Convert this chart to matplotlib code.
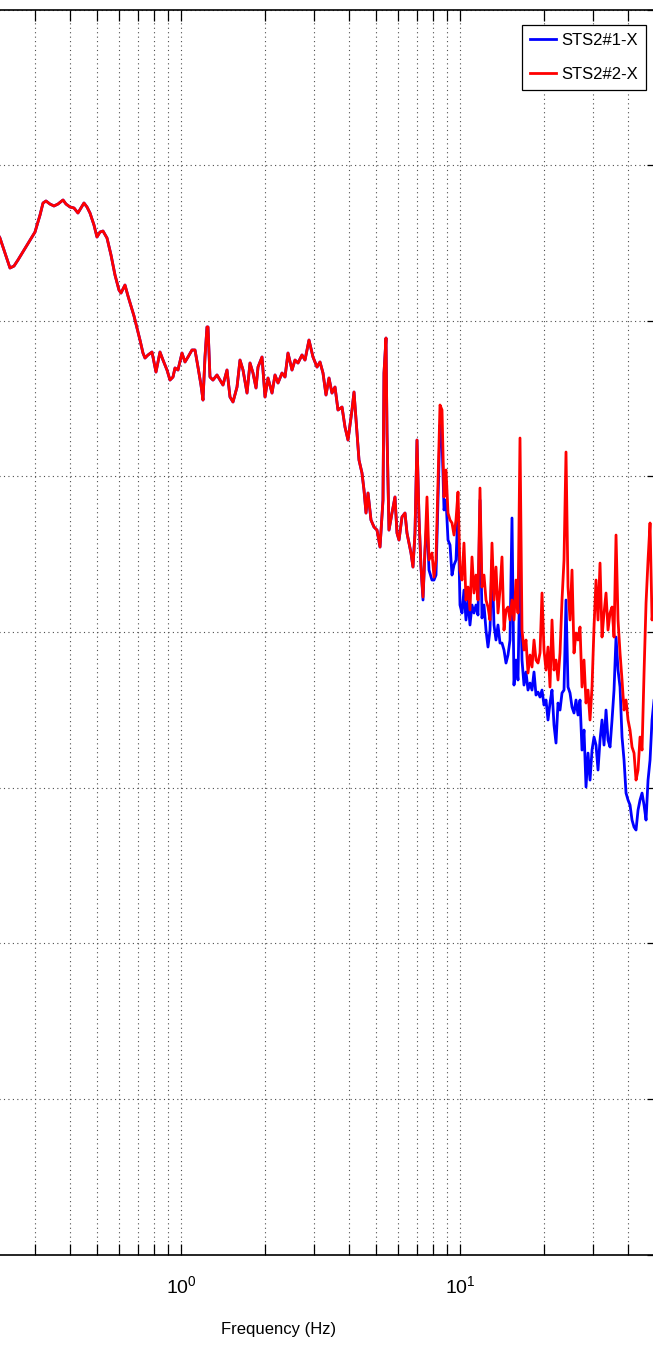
import math
import matplotlib
matplotlib.use("Agg")
import matplotlib.pyplot as plt
import matplotlib.font_manager as fm
from matplotlib.ticker import LogLocator, FixedLocator, NullFormatter, FuncFormatter

NARROW = "Liberation Sans Narrow" in {f.name for f in fm.fontManager.ttflist}
FONT = "Liberation Sans Narrow" if NARROW else "Liberation Sans"
SZ = 1.2 if NARROW else 1.0
plt.rcParams["font.family"] = [FONT, "DejaVu Sans"]

# ---------------- data ----------------
# frequency bins shared by both sensors below ~7 Hz (curves coincide there)
low_freq = [0.2100, 0.2245, 0.2320, 0.2398, 0.2438, 0.2520, 0.2604, 0.2737, 0.2876, 0.2997,
            0.3124, 0.3202, 0.3282, 0.3391, 0.3505, 0.3623, 0.3777, 0.3871, 0.4001, 0.4135,
            0.4272, 0.4380, 0.4490, 0.4603, 0.4718, 0.4877, 0.4999, 0.5124, 0.5253, 0.5430,
            0.5612, 0.5800, 0.5994, 0.6094, 0.6298, 0.6457, 0.6619, 0.6785, 0.6955, 0.7129,
            0.7307, 0.7430, 0.7616, 0.7871, 0.8135, 0.8408, 0.8620, 0.8909, 0.9132, 0.9361,
            0.9517, 0.9755, 1.0083, 1.0335, 1.0595, 1.0950, 1.1225, 1.1505, 1.1794, 1.1991,
            1.2190, 1.2393, 1.2496, 1.2703, 1.3021, 1.3459, 1.3797, 1.4142, 1.4618, 1.4985,
            1.5360, 1.5877, 1.6275, 1.6684, 1.7244, 1.7675, 1.8119, 1.8573, 1.8884, 1.9516,
            2.0005, 2.0505, 2.1196, 2.1727, 2.2272, 2.3014, 2.3595, 2.4184, 2.4995, 2.5623,
            2.6267, 2.7147, 2.7826, 2.8761, 2.9726, 3.0725, 3.1494, 3.2285, 3.3092, 3.3921,
            3.4770, 3.5645, 3.6535, 3.7768, 3.8711, 3.9684, 4.1012, 4.1698, 4.2740, 4.3451,
            4.4537, 4.5283, 4.6040, 4.6811, 4.7978, 4.9185, 5.0415, 5.1684, 5.2966, 5.3408,
            5.4300, 5.4753, 5.5656, 5.7056, 5.8479, 5.9457, 6.0452, 6.1962, 6.3521, 6.4565,
            6.6741, 6.7842, 6.8978, 7.0132, 7.1285]
low_psd = [-67.50, -69.37, -70.91, -72.45, -73.22, -72.97, -72.19, -70.91, -69.62, -68.60,
           -66.41, -64.87, -64.61, -65.00, -65.25, -65.00, -64.48, -65.00, -65.38, -65.51,
           -66.15, -65.51, -64.87, -65.38, -66.15, -67.70, -69.24, -68.60, -68.47, -69.37,
           -71.55, -74.12, -76.05, -76.44, -75.41, -76.82, -78.11, -79.39, -80.93, -82.48,
           -84.15, -84.79, -84.40, -84.02, -86.59, -84.02, -85.05, -86.33, -87.62, -87.23,
           -86.07, -86.33, -84.15, -85.30, -84.66, -83.76, -83.76, -85.95, -88.26, -90.19,
           -84.66, -80.80, -80.80, -87.23, -87.62, -86.97, -87.62, -88.26, -86.33, -89.80,
           -90.44, -88.52, -85.05, -86.33, -89.29, -85.43, -86.72, -88.64, -85.95, -84.66,
           -89.80, -87.36, -89.29, -86.97, -88.00, -86.72, -87.23, -84.15, -86.33, -85.05,
           -85.43, -84.40, -85.05, -82.48, -84.66, -85.95, -85.30, -86.72, -89.54, -87.36,
           -89.29, -88.52, -91.47, -91.09, -93.66, -95.33, -91.47, -89.16, -94.43, -97.90,
           -99.57, -101.75, -104.71, -102.14, -105.61, -106.51, -106.90, -109.08, -103.04, -86.72,
           -82.22, -94.43, -106.90, -104.71, -102.65, -107.28, -108.18, -105.22, -104.71, -107.28,
           -109.85, -111.65, -107.28, -95.33, -105.22]

# 7 - 8.3 Hz
mid_freq = [7.2478, 7.3690, 7.4923, 7.6158, 7.7432, 7.9362, 8.0691, 8.2040]
sts1_mid = [-111.65, -115.89, -109.47, -105.61, -112.04, -113.32, -113.32, -112.68]
sts2_mid = [-111.65, -115.51, -109.47, -102.65, -110.75, -109.85, -112.94, -110.75]

# 8.5 - 50 Hz, where the two sensors separate
high_freq = [8.479, 8.621, 8.765, 8.911, 9.059, 9.210, 9.362, 9.518, 9.676, 9.837,
             10.000, 10.167, 10.335, 10.507, 10.682, 10.860, 11.041, 11.225, 11.412, 11.602,
             11.795, 11.991, 12.191, 12.394, 12.600, 12.810, 13.023, 13.240, 13.460, 13.684,
             13.912, 14.143, 14.379, 14.618, 14.861, 15.109, 15.360, 15.616, 15.876, 16.140,
             16.409, 16.682, 16.960, 17.242, 17.529, 17.821, 18.118, 18.420, 18.726, 19.038,
             19.355, 19.677, 20.005, 20.338, 20.676, 21.020, 21.370, 21.726, 22.088, 22.455,
             22.829, 23.209, 23.596, 23.988, 24.388, 24.794, 25.206, 25.626, 26.053, 26.486,
             26.927, 27.375, 27.831, 28.295, 28.766, 29.245, 29.732, 30.227, 30.730, 31.242,
             31.762, 32.291, 32.829, 33.375, 33.931, 34.496, 35.070, 35.654, 36.248, 36.851,
             37.465, 38.089, 38.723, 39.367, 40.023, 40.689, 41.367, 42.056, 42.756, 43.468,
             44.192, 44.928, 45.676, 46.436, 47.209, 47.995, 48.794, 49.606]
sts2_high = [-90.83, -91.47, -102.65, -99.18, -104.71, -105.61, -105.99, -107.54, -105.61, -102.01,
             -112.04, -113.32, -108.57, -115.89, -114.22, -117.18, -110.36, -114.99, -112.68, -115.89,
             -101.50, -114.22, -112.68, -115.89, -116.79, -118.46, -108.57, -115.89, -111.65, -117.56,
             -114.61, -110.36, -119.75, -117.18, -116.79, -118.46, -115.89, -118.46, -113.32, -117.56,
             -95.07, -119.75, -122.32, -121.03, -125.27, -122.96, -124.50, -121.03, -123.60, -123.99,
             -122.70, -114.99, -122.32, -124.89, -121.93, -127.07, -118.46, -124.89, -123.60, -126.17,
             -122.70, -115.89, -110.75, -96.87, -114.22, -118.46, -112.04, -122.70, -120.13, -121.03,
             -119.36, -127.07, -123.60, -129.13, -127.46, -131.31, -127.07, -119.36, -113.32, -118.46,
             -111.14, -120.65, -117.56, -114.99, -119.75, -117.56, -116.79, -120.65, -107.54, -118.46,
             -122.70, -126.17, -130.03, -128.74, -131.31, -132.60, -134.78, -135.56, -139.03, -137.74,
             -133.50, -135.17, -125.27, -116.28, -110.75, -105.99, -118.46, -115.89]
sts1_high = [-93.40, -95.33, -104.32, -103.04, -108.18, -108.82, -112.68, -111.39, -110.75, -104.32,
             -116.53, -117.56, -114.61, -118.46, -115.89, -119.10, -116.53, -117.56, -116.53, -117.82,
             -103.04, -118.20, -116.53, -119.75, -121.93, -119.75, -110.75, -119.10, -121.03, -119.10,
             -121.42, -121.42, -122.32, -123.99, -122.96, -121.03, -105.35, -126.82, -123.60, -126.17,
             -110.75, -123.60, -126.82, -125.14, -127.46, -126.56, -127.46, -125.14, -128.10, -127.72,
             -128.36, -127.46, -129.39, -128.74, -131.31, -129.13, -127.46, -131.96, -134.27, -129.13,
             -130.03, -127.84, -127.46, -115.89, -127.07, -127.84, -129.64, -130.41, -128.74, -130.67,
             -128.74, -135.17, -132.60, -139.92, -135.56, -139.03, -135.17, -133.50, -134.53, -137.74,
             -133.88, -131.31, -134.53, -130.03, -133.88, -134.78, -131.31, -127.46, -120.65, -124.89,
             -127.07, -133.50, -136.45, -140.70, -141.59, -142.24, -144.17, -145.07, -145.45, -142.88,
             -141.59, -140.70, -142.24, -144.17, -139.03, -136.45, -131.31, -128.74]

series_labels = ["STS2#1-X", "STS2#2-X"]
series_colors = ["#0000ff", "#ff0000"]
x_label = "Frequency (Hz)"
x_limits = (0.1, 50.0)
y_limits = (-200.0, -40.0)
y_ticks = [-200, -180, -160, -140, -120, -100, -80, -60, -40]

sts1_freq = low_freq + mid_freq + high_freq
sts1_psd = low_psd + sts1_mid + sts1_high
sts2_freq = low_freq + mid_freq + high_freq
sts2_psd = low_psd + sts2_mid + sts2_high

# ---------------- figure ----------------
W, H = 653, 1356
fig = plt.figure(figsize=(W / 100, H / 100), dpi=100)
ax = fig.add_axes([-98 / W, 1 - 1254.5 / H, 753 / W, 1245 / H])

ax.semilogx(sts1_freq, sts1_psd, color=series_colors[0], lw=2.0, label=series_labels[0], zorder=3)
ax.semilogx(sts2_freq, sts2_psd, color=series_colors[1], lw=2.0, label=series_labels[1], zorder=4)

ax.set_xlim(*x_limits)
ax.set_ylim(*y_limits)
ax.yaxis.set_major_locator(FixedLocator(y_ticks))
ax.xaxis.set_major_locator(LogLocator(base=10, numticks=10))
ax.xaxis.set_minor_locator(LogLocator(base=10, subs=range(2, 10), numticks=20))
ax.xaxis.set_minor_formatter(NullFormatter())


def decade_label(v, pos):
    if v < 0.5:
        return ""
    return r"$\mathregular{10^{%d}}$" % round(math.log10(v))


ax.xaxis.set_major_formatter(FuncFormatter(decade_label))

grid_kw = dict(color="0.3", linestyle=(0, (1, 3)), linewidth=0.8)
ax.grid(True, which="major", axis="both", **grid_kw)
ax.grid(True, which="minor", axis="x", **grid_kw)
ax.set_axisbelow(True)

ax.tick_params(axis="x", which="both", direction="in", top=True, bottom=True,
               length=7.7, width=0.9, colors="black", labelsize=14 * SZ, pad=15)
ax.tick_params(axis="y", which="both", direction="in", left=True, right=True,
               length=5.8, width=0.9, colors="black", labelleft=False, labelright=False)
for s in ax.spines.values():
    s.set_linewidth(1.2)
    s.set_color("black")

ax.set_xlabel(x_label, fontsize=12 * SZ, va="top")
ax.xaxis.set_label_coords(0.5, (1254.5 - 1322) / 1245)

leg = ax.legend(loc="upper right", bbox_to_anchor=(646 / W, 1 - 25 / H),
                bbox_transform=fig.transFigure, borderaxespad=0, fontsize=12 * SZ,
                handlelength=1.55, handletextpad=0.3, labelspacing=1.1,
                borderpad=0.5, fancybox=False, framealpha=1, edgecolor="black")
leg.get_frame().set_linewidth(0.9)
for line in leg.get_lines():
    line.set_linewidth(2.0)

fig.savefig("out.png", dpi=100)
